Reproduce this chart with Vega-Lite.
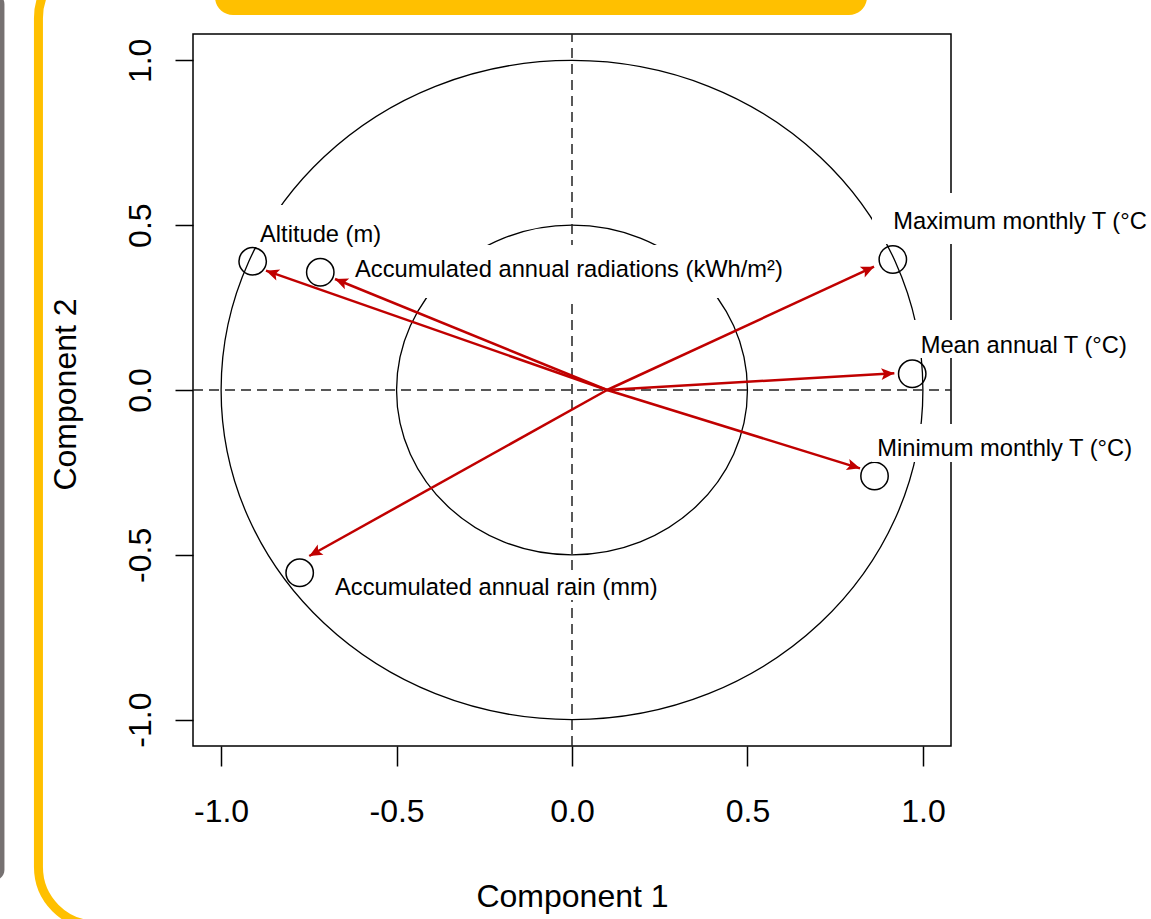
{
  "$schema": "https://vega.github.io/schema/vega-lite/v6.json",
  "width": 758,
  "height": 712,
  "autosize": {"type": "none"},
  "padding": {"left": 193, "top": 34, "right": 200, "bottom": 173},
  "background": "white",
  "config": {
    "view": {"stroke": "#000000", "strokeWidth": 1.5},
    "font": "Liberation Sans"
  },
  "encoding": {
    "x": {
      "field": "x", "type": "quantitative",
      "scale": {"domain": [-1.08, 1.08], "nice": false, "zero": false},
      "title": "Component 1",
      "axis": {
        "values": [-1, -0.5, 0, 0.5, 1],
        "labelExpr": "replace(format(datum.value, '.1f'), '\u2212', '-')",
        "domain": false, "grid": false,
        "tickSize": 20, "tickColor": "#000000", "tickWidth": 1.5,
        "labelFont": "Liberation Sans", "labelFontSize": 32, "labelColor": "#000000",
        "labelPadding": 30, "labelBaseline": "top", "labelAlign": "center",
        "labelFlush": false, "labelOverlap": false,
        "titleFont": "Liberation Sans", "titleFontSize": 32, "titleFontWeight": "normal", "titleColor": "#000000",
        "titleX": 379, "titleY": 150, "titleBaseline": "middle", "titleAlign": "center"
      }
    },
    "y": {
      "field": "y", "type": "quantitative",
      "scale": {"domain": [-1.08, 1.08], "nice": false, "zero": false},
      "title": "Component 2",
      "axis": {
        "values": [-1, -0.5, 0, 0.5, 1],
        "labelExpr": "replace(format(datum.value, '.1f'), '\u2212', '-')",
        "domain": false, "grid": false,
        "tickSize": 18, "tickColor": "#000000", "tickWidth": 1.5,
        "labelFont": "Liberation Sans", "labelFontSize": 32, "labelColor": "#000000",
        "labelPadding": 18, "labelAngle": 270, "labelAlign": "center", "labelBaseline": "bottom",
        "labelFlush": false, "labelOverlap": false,
        "titleFont": "Liberation Sans", "titleFontSize": 32, "titleFontWeight": "normal", "titleColor": "#000000",
        "titleAngle": 270, "titleX": -128, "titleY": 360, "titleBaseline": "middle", "titleAlign": "center"
      }
    }
  },
  "layer": [
    {
      "data": {"values": [{"x": -1.6871, "x2": -1.6173, "y": 1.2015, "y2": -1.4867}]},
      "mark": {"type": "rect", "color": "#767171", "cornerRadius": 10},
      "encoding": {"x2": {"field": "x2"}, "y2": {"field": "y2"}}
    },
    {
      "data": {"values": [{"x": -1.5204, "x2": 2.0747, "y": 1.3046, "y2": -1.6232}]},
      "mark": {"type": "rect", "filled": false, "stroke": "#FFC000", "strokeWidth": 9, "cornerRadius": 58},
      "encoding": {"x2": {"field": "x2"}, "y2": {"field": "y2"}}
    },
    {
      "data": {"values": [{"x": -1.0174, "x2": 0.8407, "y": 1.3046, "y2": 1.1377}]},
      "mark": {"type": "rect", "color": "#FFC000", "cornerRadius": 18},
      "encoding": {"x2": {"field": "x2"}, "y2": {"field": "y2"}}
    },
    {
      "data": {"values": [{"x": 0, "y": 0}]},
      "mark": {"type": "point", "shape": "M -1 0 A 1 0.9393 0 1 1 1 0 A 1 0.9393 0 1 1 -1 0 Z", "size": 492523, "filled": false, "color": "#000000", "strokeWidth": 1.3, "opacity": 1}
    },
    {
      "data": {"values": [{"x": 0, "y": 0}]},
      "mark": {"type": "point", "shape": "M -1 0 A 1 0.9393 0 1 1 1 0 A 1 0.9393 0 1 1 -1 0 Z", "size": 123131, "filled": false, "color": "#000000", "strokeWidth": 1.3, "opacity": 1}
    },
    {
      "data": {"values": [
        {"x": -1.08, "x2": 1.08, "y": 0, "y2": 0},
        {"x": 0, "x2": 0, "y": -1.08, "y2": 1.08}
      ]},
      "mark": {"type": "rule", "color": "#222222", "strokeWidth": 1.5, "strokeDash": [10, 6]},
      "encoding": {"x2": {"field": "x2"}, "y2": {"field": "y2"}}
    },
    {
      "data": {"values": [
        {"variable": "Altitude", "x": -0.910, "y": 0.3905},
        {"variable": "Radiation", "x": -0.7173, "y": 0.3571},
        {"variable": "Tmax", "x": 0.9142, "y": 0.3959},
        {"variable": "Tmean", "x": 0.9695, "y": 0.0491},
        {"variable": "Tmin", "x": 0.8621, "y": -0.2609},
        {"variable": "Rain", "x": -0.7760, "y": -0.5546}
      ]},
      "mark": {"type": "point", "shape": "circle", "size": 750, "filled": false, "color": "#000000", "strokeWidth": 1.5, "opacity": 1}
    },
    {
      "data": {"values": [
        {"x": -0.9034, "x2": -0.5130, "y": 0.5613, "y2": 0.4339},
        {"x": -0.6469, "x2": 0.6213, "y": 0.4399, "y2": 0.2791},
        {"x": 0.8549, "x2": 1.6502, "y": 0.5977, "y2": 0.4430},
        {"x": 0.9689, "x2": 1.6502, "y": 0.2124, "y2": 0.0971},
        {"x": 0.8549, "x2": 1.6502, "y": -0.1032, "y2": -0.2184},
        {"x": -0.6953, "x2": 0.2650, "y": -0.5613, "y2": -0.6371}
      ]},
      "mark": {"type": "rect", "color": "#FFFFFF"},
      "encoding": {"x2": {"field": "x2"}, "y2": {"field": "y2"}}
    },
    {
      "data": {"values": [
        {"label": "Altitude (m)", "x": -0.8891, "y": 0.4499},
        {"label": "Accumulated annual radiations (kWh/m²)", "x": -0.6184, "y": 0.3438},
        {"label": "Maximum monthly T (°C", "x": 0.9157, "y": 0.4876},
        {"label": "Mean annual T (°C)", "x": 0.9937, "y": 0.1113},
        {"label": "Minimum monthly T (°C)", "x": 0.8701, "y": -0.2002},
        {"label": "Accumulated annual rain (mm)", "x": -0.6754, "y": -0.6220}
      ]},
      "mark": {"type": "text", "align": "left", "baseline": "alphabetic", "font": "Liberation Sans", "fontSize": 23.7, "color": "#000000"},
      "encoding": {"text": {"field": "label"}}
    },
    {
      "data": {"values": [
        {"x": 0.1, "y": 0, "x2": -0.8720, "y2": 0.3620},
        {"x": 0.1, "y": 0, "x2": -0.6754, "y2": 0.3368},
        {"x": 0.1, "y": 0, "x2": 0.8607, "y2": 0.3741},
        {"x": 0.1, "y": 0, "x2": 0.9185, "y2": 0.0507},
        {"x": 0.1, "y": 0, "x2": 0.8207, "y2": -0.2376},
        {"x": 0.1, "y": 0, "x2": -0.7487, "y2": -0.5036}
      ]},
      "mark": {"type": "rule", "color": "#C00000", "strokeWidth": 2.5},
      "encoding": {"x2": {"field": "x2"}, "y2": {"field": "y2"}}
    },
    {
      "data": {"values": [
        {"x": -0.8720, "y": 0.3620, "heading": 289.3},
        {"x": -0.6754, "y": 0.3368, "heading": 292.2},
        {"x": 0.8607, "y": 0.3741, "heading": 65.2},
        {"x": 0.9185, "y": 0.0507, "heading": 86.7},
        {"x": 0.8207, "y": -0.2376, "heading": 107.2},
        {"x": -0.7487, "y": -0.5036, "heading": 240.9}
      ]},
      "mark": {"type": "point", "shape": "M 0 0 L 0.45 1 L 0 0.78 L -0.45 1 Z", "filled": true, "color": "#C00000", "size": 676, "opacity": 1, "strokeWidth": 0},
      "encoding": {"angle": {"field": "heading", "type": "quantitative", "scale": null}}
    }
  ]
}
